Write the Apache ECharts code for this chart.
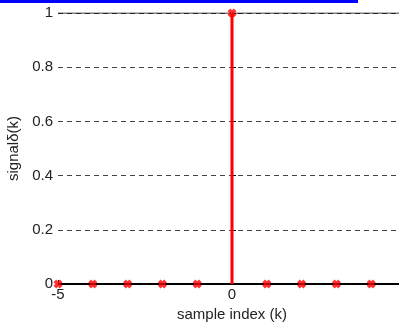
<!DOCTYPE html>
<html><head><meta charset="utf-8">
<script src="https://cdn.jsdelivr.net/npm/echarts@6/dist/echarts.min.js"></script>
<style>html,body{margin:0;padding:0;background:#fff}#c{width:399px;height:322px}</style>
</head><body><div id="c"></div>
<script>
const sampleIndex = [-5,-4,-3,-2,-1,0,1,2,3,4,5];
const signalValues = [0,0,0,0,0,1,0,0,0,0,0];
const yTicks = [0,0.2,0.4,0.6,0.8,1];
const xTickLabels = [-5,0,5];

const pts = sampleIndex.map((k,i)=>[k,signalValues[i]]);
const cross = 'path://M0,3L3,0L5,2L7,0L10,3L8,5L10,7L7,10L5,8L3,10L0,7L2,5Z';
const font = 'Liberation Sans, Arial, sans-serif';

const chart = echarts.init(document.getElementById('c'));
chart.setOption({
  animation:false,
  backgroundColor:'#fff',
  graphic:[{type:'rect',shape:{x:0,y:0,width:358,height:3},style:{fill:'#0000ff'},z:100}],
  grid:{left:58,top:13,bottom:38,right:-7,show:false,containLabel:false,outerBoundsMode:'none'},
  xAxis:{type:'value',min:-5,max:5,interval:5,
    axisLine:{show:true,onZero:false,lineStyle:{color:'#000',width:1}},
    axisTick:{show:true,inside:true,length:4,lineStyle:{color:'#000'}},
    splitLine:{show:false},
    axisLabel:{color:'#222',fontFamily:font,fontSize:15,margin:3,
      formatter:v=>xTickLabels.includes(v)?String(v):''},
    name:'sample index (k)',nameLocation:'middle',nameGap:22,
    nameTextStyle:{color:'#222',fontFamily:font,fontSize:15}
  },
  yAxis:{type:'value',min:0,max:1,interval:0.2,
    axisLine:{show:true,lineStyle:{color:'#000',width:1}},
    axisTick:{show:true,inside:true,length:4,lineStyle:{color:'#000'}},
    splitLine:{show:true,lineStyle:{color:'#444',type:[5,4],width:1}},
    axisLabel:{color:'#222',fontFamily:font,fontSize:15,margin:5,
      formatter:v=>String(+v.toFixed(1))},
    name:'signalδ(k)',nameLocation:'middle',nameGap:37,
    nameTextStyle:{color:'#222',fontFamily:font,fontSize:15}
  },
  series:[
    {type:'line',data:[[-5,1],[5,1]],symbol:'none',silent:true,
      lineStyle:{color:'#000',width:1},z:1},
    {type:'line',data:[[-5,0],[5,0]],symbol:'none',silent:true,
      lineStyle:{color:'#000',width:2},z:2},
    {type:'custom',data:pts,z:3,
      renderItem:(params,api)=>{
        const top=api.coord([api.value(0),api.value(1)]);
        const base=api.coord([api.value(0),0]);
        return {type:'line',shape:{x1:top[0],y1:top[1],x2:base[0],y2:base[1]},
          style:{stroke:'#ff0000',lineWidth:3}};
      }},
    {type:'scatter',data:pts,symbol:cross,symbolSize:9,z:4,
      itemStyle:{color:'#ff0000'}}
  ]
});
</script></body></html>
